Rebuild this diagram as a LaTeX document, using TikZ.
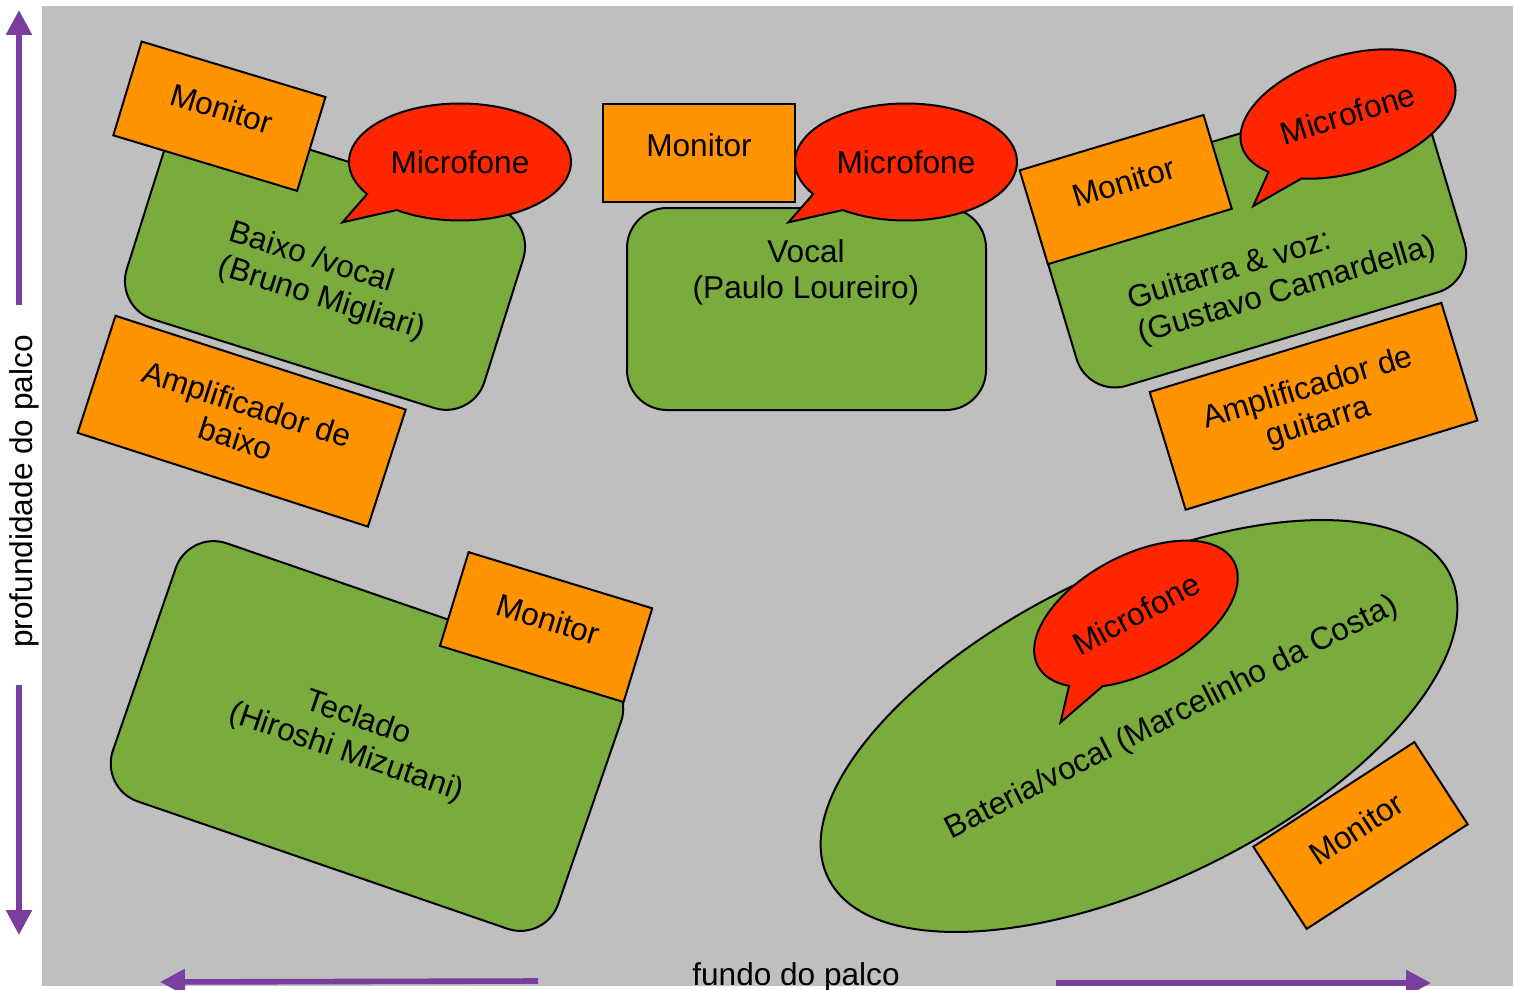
\documentclass[tikz,border=0pt]{standalone}
\usepackage{fontspec}
\setmainfont{Liberation Sans}
\usetikzlibrary{shapes.geometric,shapes.callouts,arrows.meta}
\definecolor{bggray}{RGB}{191,191,191}
\definecolor{grn}{RGB}{122,172,61}
\definecolor{org}{RGB}{255,147,0}
\definecolor{micred}{RGB}{255,38,0}
\definecolor{purp}{RGB}{122,63,158}
\tikzset{
  lbl/.style={font=\fontsize{15.8pt}{18pt}\selectfont, text=black},
  stagebox/.style={draw=black, line width=1pt, fill=grn, rounded corners=20pt, inner sep=0pt},
  orangebox/.style={draw=black, line width=1pt, fill=org, inner sep=0pt, lbl, align=center},
  monitorbox/.style={orangebox, minimum width=96pt, minimum height=49pt, text height=11.3pt, text depth=8pt},
  ampbox/.style={orangebox, minimum width=152.5pt, minimum height=61.5pt},
  mic/.style={ellipse callout, draw=black, line width=1pt, fill=micred,
    minimum width=111pt, minimum height=58.5pt, inner sep=0pt,
    callout relative pointer={(-38,19.5)}, callout pointer arc=22, lbl},
  axisarrow/.style={draw=purp, line width=2.8pt, -{Triangle[length=12.5pt,width=12.5pt]}},
}
\begin{document}
\begin{tikzpicture}[x=0.5pt,y=-0.5pt]
\useasboundingbox (0,0) rectangle (1515,990);
\clip (0,0) rectangle (1515,990);
\fill[bggray] (42,6) rectangle (1513,986);

% --- Baixo group
\node[stagebox, minimum width=187.5pt, minimum height=104.5pt, rotate=-17.5] (baixo) at (325,264) {};
\node[lbl, rotate=-17.5, align=left] (baixoT) at (327,282) {Baixo /vocal\\(Bruno Migliari)};
\node[ampbox, rotate=-17.9] (ampbaixo) at (241.7,421.2) {Amplificador de\\baixo};
\node[monitorbox, rotate=-16.8] (monbaixo) at (219.4,116.2) {Monitor};
\node[mic] (micbaixo) at (460,162) {Microfone};

% --- Vocal group
\node[stagebox, minimum width=179.5pt, minimum height=101pt] (vocal) at (806.5,309) {};
\node[lbl, align=center] (vocalT) at (806,272) {Vocal\\(Paulo Loureiro)};
\node[monitorbox] (monvocal) at (699,153) {Monitor};
\node[mic] (micvocal) at (906,162) {Microfone};

% --- Guitarra group
\node[stagebox, minimum width=202.5pt, minimum height=104.5pt, rotate=16.7] (guit) at (1252,239) {};
\node[lbl, rotate=16.7, align=left] (guitT) at (1282,274) {Guitarra \& voz:\\(Gustavo Camardella)};
\node[monitorbox, rotate=16.75] (monguit) at (1125.7,189.6) {Monitor};
\node[mic, rotate=17] (micguit) at (1348,114) {Microfone};
\node[ampbox, rotate=17] (ampguit) at (1313.5,406.3) {Amplificador de\\guitarra};

% --- Teclado group
\node[stagebox, minimum width=235.5pt, minimum height=136.5pt, rotate=-19] (tecl) at (367,736) {};
\node[lbl, rotate=-19, align=center] (teclT) at (352,736) {Teclado\\(Hiroshi Mizutani)};
\node[monitorbox, rotate=-17] (montecl) at (546.1,627.1) {Monitor};

% --- Bateria group
\node[ellipse, draw=black, line width=1pt, fill=grn, inner sep=0pt,
      minimum width=346pt, minimum height=155pt, rotate=26] (bat) at (1139,726) {};
\node[lbl, rotate=27] (batT) at (1172,718) {Bateria/vocal (Marcelinho da Costa)};
\node[mic, rotate=28] (micbat) at (1136,614) {Microfone};
\node[monitorbox, rotate=33] (monbat) at (1360.5,835.5) {Monitor};

% --- axes
\coordinate (vupA) at (19,305);
\coordinate (vupB) at (19,10);
\coordinate (vdnA) at (19,685);
\coordinate (vdnB) at (19,935);
\coordinate (hlA) at (538,981);
\coordinate (hlB) at (160,982);
\coordinate (hrA) at (1056,983);
\coordinate (hrB) at (1431,983);
\draw[axisarrow] (vupA) -- (vupB);
\draw[axisarrow] (vdnA) -- (vdnB);
\draw[axisarrow] (hlA) -- (hlB);
\draw[axisarrow] (hrA) -- (hrB);
\node[lbl, rotate=90] (depth) at (24,491.5) {profundidade do palco};
\node[lbl, anchor=base] (fundo) at (796,985) {fundo do palco};
\end{tikzpicture}
\end{document}
